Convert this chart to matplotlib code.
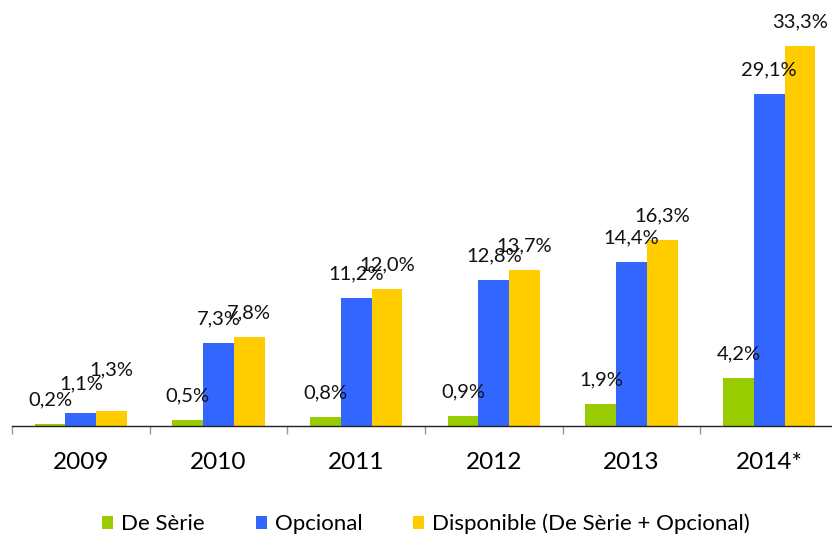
import numpy as np
import matplotlib
matplotlib.use('Agg')
import matplotlib.pyplot as plt

# dados do gráfico
anos = ['2009', '2010', '2011', '2012', '2013', '2014*']
de_serie = [0.2, 0.5, 0.8, 0.9, 1.9, 4.2]
opcional = [1.1, 7.3, 11.2, 12.8, 14.4, 29.1]
disponivel = [1.3, 7.8, 12.0, 13.7, 16.3, 33.3]
series_nomes = ['De Sèrie', 'Opcional', 'Disponible (De Sèrie + Opcional)']
cores = ['#99CC00', '#3366FF', '#FFCC00']

plt.rcParams['font.family'] = ['Lato', 'DejaVu Sans']

fig = plt.figure(figsize=(8.32, 5.37), dpi=100)
ax = fig.add_axes([12 / 832, 111 / 537, 826 / 832, 399.4 / 537])

x = np.arange(len(anos))
w = 0.223
series = [de_serie, opcional, disponivel]
# deslocamento extra (px) de alguns rótulos para não se sobreporem
lift = {(0, 1): 6, (0, 2): 17}

for i, (vals, nome, cor) in enumerate(zip(series, series_nomes, cores)):
    pos = x + (i - 1) * w
    ax.bar(pos, vals, width=w, color=cor, label=nome, zorder=2)
    for j, (p, v) in enumerate(zip(pos, vals)):
        dy = (24 + lift.get((j, i), 0)) * 72 / 100
        ax.annotate(f'{v:.1f}%'.replace('.', ','), (p, v), xytext=(0, dy),
                    textcoords='offset points', ha='center', va='center',
                    fontsize=14.5, color='#111111')

ax.set_xlim(-0.5, len(anos) - 0.5)
ax.set_ylim(0, 35)
for s in ['top', 'right', 'left']:
    ax.spines[s].set_visible(False)
ax.spines['bottom'].set_color('#222222')
ax.spines['bottom'].set_linewidth(1.0)
ax.set_yticks([])

ax.set_xticks(x)
ax.set_xticklabels(anos, fontsize=17.5)
ax.tick_params(axis='x', which='major', length=0, pad=18.5)
ax.set_xticks(np.arange(-0.5, len(anos)), minor=True)
ax.tick_params(axis='x', which='minor', length=6, color='#999999', width=1)

fig.legend(loc='center', bbox_to_anchor=(426 / 832, 1 - 524 / 537), ncol=3,
           frameon=False, fontsize=16, handlelength=0.5, handleheight=0.5,
           handletextpad=0.35, columnspacing=2.3)

fig.savefig('out.png', dpi=100)
